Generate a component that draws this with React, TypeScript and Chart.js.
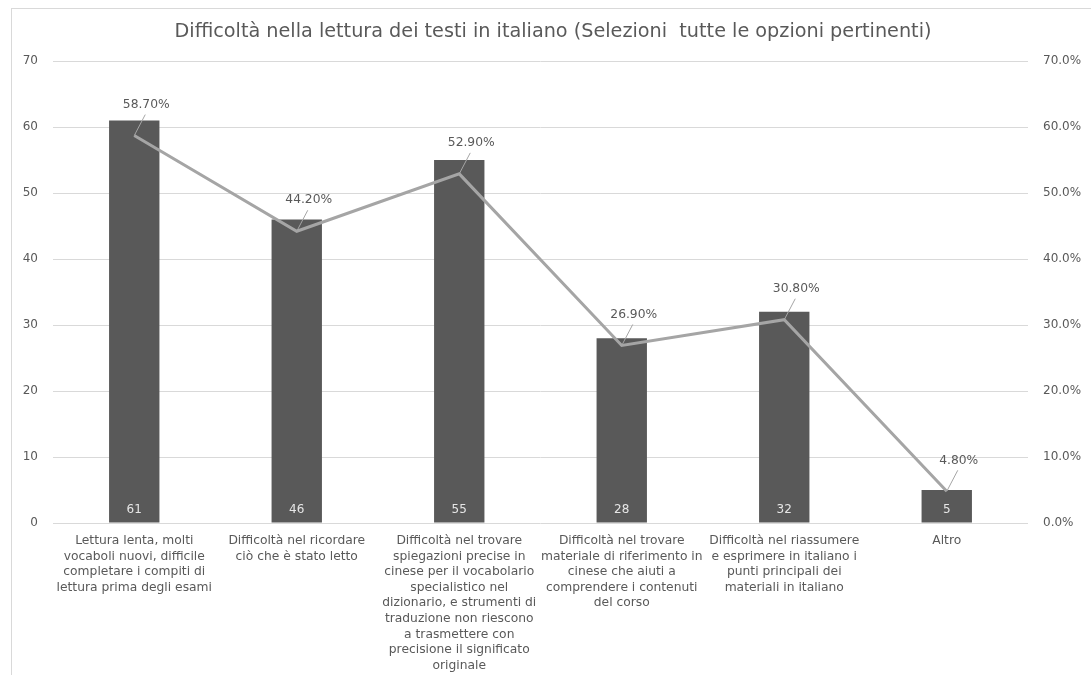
import React, { useEffect, useRef } from "react";
import { Chart, registerables } from "chart.js";

Chart.register(...registerables);

const TITLE = "Difficoltà nella lettura dei testi in italiano (Selezioni  tutte le opzioni pertinenti)";

const categories: string[][] = [
  ["Lettura lenta, molti", "vocaboli nuovi, difficile", "completare i compiti di", "lettura prima degli esami"],
  ["Difficoltà nel ricordare", "ciò che è stato letto"],
  [
    "Difficoltà nel trovare",
    "spiegazioni precise in",
    "cinese per il vocabolario",
    "specialistico nel",
    "dizionario, e strumenti di",
    "traduzione non riescono",
    "a trasmettere con",
    "precisione il significato",
    "originale",
  ],
  ["Difficoltà nel trovare", "materiale di riferimento in", "cinese che aiuti a", "comprendere i contenuti", "del corso"],
  ["Difficoltà nel riassumere", "e esprimere in italiano i", "punti principali dei", "materiali in italiano"],
  ["Altro"],
];

const counts: number[] = [61, 46, 55, 28, 32, 5];
const percents: number[] = [58.7, 44.2, 52.9, 26.9, 30.8, 4.8];

const leftAxisMax = 70;
const rightAxisMax = 70;
const axisStep = 10;

const TEXT = "#595959";
const FONT = "'DejaVu Sans', Verdana, sans-serif";
const TITLE_WIDTH = 757;

const overlay = {
  id: "overlay",
  afterDatasetsDraw(chart: any) {
    const ctx = chart.ctx as CanvasRenderingContext2D;
    const area = chart.chartArea;
    ctx.save();
    // bar value labels
    const barMeta = chart.getDatasetMeta(0);
    ctx.font = `12px ${FONT}`;
    ctx.fillStyle = "#e6e6e6";
    ctx.textAlign = "center";
    ctx.textBaseline = "middle";
    barMeta.data.forEach((el: any, i: number) => {
      ctx.fillText(String(counts[i]), el.x, area.bottom - 13);
    });
    // line labels with leader lines
    const lineMeta = chart.getDatasetMeta(1);
    lineMeta.data.forEach((el: any, i: number) => {
      ctx.strokeStyle = "#a5a5a5";
      ctx.lineWidth = 1;
      ctx.beginPath();
      ctx.moveTo(el.x, el.y);
      ctx.lineTo(el.x + 11, el.y - 21);
      ctx.stroke();
      ctx.font = `12.3px ${FONT}`;
      ctx.fillStyle = TEXT;
      ctx.fillText(percents[i].toFixed(2) + "%", el.x + 12, el.y - 31);
    });
    ctx.restore();
  },
  afterDraw(chart: any) {
    const ctx = chart.ctx as CanvasRenderingContext2D;
    ctx.save();
    ctx.font = `18px ${FONT}`;
    const w = ctx.measureText(TITLE).width;
    const size = (18 * TITLE_WIDTH) / w;
    ctx.font = `${size}px ${FONT}`;
    ctx.fillStyle = TEXT;
    ctx.textAlign = "center";
    ctx.textBaseline = "middle";
    ctx.fillText(TITLE, 553, 32);
    ctx.restore();
  },
};

export default function App() {
  const ref = useRef<HTMLCanvasElement | null>(null);

  useEffect(() => {
    if (!ref.current) return;
    const chart = new Chart(ref.current, {
      type: "bar",
      data: {
        labels: categories,
        datasets: [
          {
            type: "bar",
            label: "Conteggio",
            data: counts,
            backgroundColor: "#595959",
            yAxisID: "y",
            order: 1,
            barPercentage: 0.31,
            categoryPercentage: 1,
          },
          {
            type: "line",
            label: "Percentuale",
            data: percents,
            borderColor: "#a5a5a5",
            borderWidth: 3,
            pointRadius: 0,
            tension: 0,
            yAxisID: "y1",
            order: 0,
          },
        ] as any,
      },
      options: {
        responsive: false,
        animation: false,
        layout: { padding: { top: 61, left: 0, right: 0, bottom: 0 } },
        plugins: {
          legend: { display: false },
          tooltip: { enabled: false },
          title: { display: false },
        },
        scales: {
          x: {
            grid: { display: false },
            border: { display: false },
            ticks: {
              color: TEXT,
              font: { family: FONT, size: 12.3, lineHeight: 1.27 },
              maxRotation: 0,
              autoSkip: false,
              padding: 2,
            },
            afterFit(scale: any) {
              scale.height = 152;
            },
          },
          y: {
            position: "left",
            min: 0,
            max: leftAxisMax,
            grid: { color: "#d9d9d9", drawTicks: false, lineWidth: 1 },
            border: { display: false },
            ticks: {
              stepSize: axisStep,
              color: TEXT,
              font: { family: FONT, size: 12 },
              padding: 15,
            },
            afterFit(scale: any) {
              scale.width = 53;
            },
          },
          y1: {
            position: "right",
            min: 0,
            max: rightAxisMax,
            grid: { display: false, drawTicks: false },
            border: { display: false },
            ticks: {
              stepSize: axisStep,
              color: TEXT,
              font: { family: FONT, size: 12 },
              padding: 15,
              callback: (v: any) => Number(v).toFixed(1) + "%",
            },
            afterFit(scale: any) {
              scale.width = 63;
            },
          },
        },
      },
      plugins: [overlay],
    });
    return () => chart.destroy();
  }, []);

  return (
    <div style={{ position: "fixed", left: 0, top: 0, width: 1091, height: 675, background: "#fff", overflow: "hidden" }}>
      <div
        style={{
          position: "absolute",
          left: 11,
          top: 8,
          width: 1200,
          height: 800,
          borderLeft: "1px solid #d9d9d9",
          borderTop: "1px solid #d9d9d9",
        }}
      />
      <canvas ref={ref} width={1091} height={675} style={{ position: "absolute", left: 0, top: 0, display: "block" }} />
    </div>
  );
}
